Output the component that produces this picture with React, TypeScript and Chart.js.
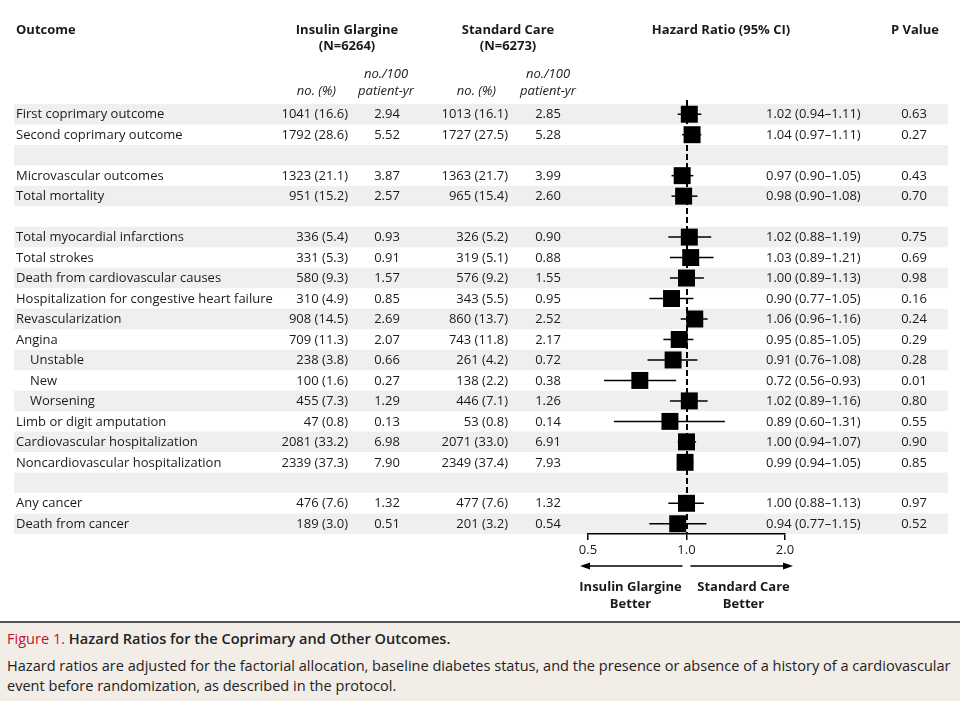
import React, { useEffect, useRef } from "react";
import { Chart, registerables } from "chart.js";

Chart.register(...registerables);

const outcomes = [
  "First coprimary outcome",
  "Second coprimary outcome",
  "",
  "Microvascular outcomes",
  "Total mortality",
  "",
  "Total myocardial infarctions",
  "Total strokes",
  "Death from cardiovascular causes",
  "Hospitalization for congestive heart failure",
  "Revascularization",
  "Angina",
  "Unstable",
  "New",
  "Worsening",
  "Limb or digit amputation",
  "Cardiovascular hospitalization",
  "Noncardiovascular hospitalization",
  "",
  "Any cancer",
  "Death from cancer",
];
const indented = [false, false, false, false, false, false, false, false, false, false, false, false, true, true, true, false, false, false, false, false, false];
const igCounts = ["1041 (16.6)", "1792 (28.6)", "", "1323 (21.1)", "951 (15.2)", "", "336 (5.4)", "331 (5.3)", "580 (9.3)", "310 (4.9)", "908 (14.5)", "709 (11.3)", "238 (3.8)", "100 (1.6)", "455 (7.3)", "47 (0.8)", "2081 (33.2)", "2339 (37.3)", "", "476 (7.6)", "189 (3.0)"];
const igRates = ["2.94", "5.52", "", "3.87", "2.57", "", "0.93", "0.91", "1.57", "0.85", "2.69", "2.07", "0.66", "0.27", "1.29", "0.13", "6.98", "7.90", "", "1.32", "0.51"];
const scCounts = ["1013 (16.1)", "1727 (27.5)", "", "1363 (21.7)", "965 (15.4)", "", "326 (5.2)", "319 (5.1)", "576 (9.2)", "343 (5.5)", "860 (13.7)", "743 (11.8)", "261 (4.2)", "138 (2.2)", "446 (7.1)", "53 (0.8)", "2071 (33.0)", "2349 (37.4)", "", "477 (7.6)", "201 (3.2)"];
const scRates = ["2.85", "5.28", "", "3.99", "2.60", "", "0.90", "0.88", "1.55", "0.95", "2.52", "2.17", "0.72", "0.38", "1.26", "0.14", "6.91", "7.93", "", "1.32", "0.54"];
const hazardRatios: (number | null)[] = [1.02, 1.04, null, 0.97, 0.98, null, 1.02, 1.03, 1.0, 0.9, 1.06, 0.95, 0.91, 0.72, 1.02, 0.89, 1.0, 0.99, null, 1.0, 0.94];
const ciLow: (number | null)[] = [0.94, 0.97, null, 0.9, 0.9, null, 0.88, 0.89, 0.89, 0.77, 0.96, 0.85, 0.76, 0.56, 0.89, 0.6, 0.94, 0.94, null, 0.88, 0.77];
const ciHigh: (number | null)[] = [1.11, 1.11, null, 1.05, 1.08, null, 1.19, 1.21, 1.13, 1.05, 1.16, 1.05, 1.08, 0.93, 1.16, 1.31, 1.07, 1.05, null, 1.13, 1.15];
const pValues = ["0.63", "0.27", "", "0.43", "0.70", "", "0.75", "0.69", "0.98", "0.16", "0.24", "0.29", "0.28", "0.01", "0.80", "0.55", "0.90", "0.85", "", "0.97", "0.52"];
const xTicks = [0.5, 1.0, 2.0];

const FONT = "'Open Sans', 'Noto Sans', sans-serif";
const TEXT = "#1a1a1a";

const fmt = (v: number) => v.toFixed(2);

const tablePlugin = {
  id: "forestTable",
  beforeDraw(chart: any) {
    const { ctx, scales } = chart;
    const y = scales.y;
    const h = Math.abs(y.getPixelForValue(1) - y.getPixelForValue(0));
    ctx.save();
    ctx.fillStyle = "#efefef";
    outcomes.forEach((_, i) => {
      if (i % 2 === 0) ctx.fillRect(14, y.getPixelForValue(i) - h / 2, 934, h);
    });
    ctx.restore();
  },
  beforeDatasetsDraw(chart: any) {
    const { ctx, scales, chartArea } = chart;
    const x = scales.x;
    const y = scales.y;
    ctx.save();
    ctx.strokeStyle = "#000";
    ctx.lineWidth = 2;
    ctx.setLineDash([6, 3]);
    const x1 = Math.round(x.getPixelForValue(1));
    ctx.beginPath();
    ctx.moveTo(x1, chartArea.top - 4);
    ctx.lineTo(x1, chartArea.bottom);
    ctx.stroke();
    ctx.setLineDash([]);
    ctx.lineWidth = 1.5;
    hazardRatios.forEach((hr, i) => {
      const lo = ciLow[i];
      const hi = ciHigh[i];
      if (hr == null || lo == null || hi == null) return;
      const py = y.getPixelForValue(i);
      ctx.beginPath();
      ctx.moveTo(x.getPixelForValue(lo), py);
      ctx.lineTo(x.getPixelForValue(hi), py);
      ctx.stroke();
    });
    ctx.restore();
  },
  afterDraw(chart: any) {
    const { ctx, scales, chartArea } = chart;
    const x = scales.x;
    const y = scales.y;
    ctx.save();
    ctx.fillStyle = TEXT;
    ctx.textBaseline = "middle";
    ctx.font = `bold 13px ${FONT}`;
    ctx.textAlign = "left";
    ctx.fillText("Outcome", 16, 30);
    ctx.textAlign = "center";
    ctx.fillText("Insulin Glargine", 347, 30);
    ctx.fillText("(N=6264)", 347, 46);
    ctx.fillText("Standard Care", 508, 30);
    ctx.fillText("(N=6273)", 508, 46);
    ctx.fillText("Hazard Ratio (95% CI)", 721, 30);
    ctx.fillText("P Value", 915, 30);
    ctx.font = `italic 13px ${FONT}`;
    ctx.textAlign = "right";
    ctx.fillText("no. (%)", 336, 91);
    ctx.fillText("no. (%)", 496, 91);
    ctx.textAlign = "center";
    ctx.fillText("no./100", 386, 74);
    ctx.fillText("patient-yr", 386, 91);
    ctx.fillText("no./100", 548, 74);
    ctx.fillText("patient-yr", 548, 91);
    ctx.font = `13px ${FONT}`;
    outcomes.forEach((name, i) => {
      if (!name) return;
      const py = y.getPixelForValue(i) + 0.5;
      ctx.textAlign = "left";
      ctx.fillText(name, indented[i] ? 30 : 16, py);
      ctx.textAlign = "right";
      ctx.fillText(igCounts[i], 348, py);
      ctx.fillText(scCounts[i], 508, py);
      ctx.textAlign = "center";
      ctx.fillText(igRates[i], 387, py);
      ctx.fillText(scRates[i], 548, py);
      ctx.fillText(pValues[i], 914, py);
      const hr = hazardRatios[i];
      const lo = ciLow[i];
      const hi = ciHigh[i];
      if (hr != null && lo != null && hi != null) {
        ctx.textAlign = "left";
        ctx.fillText(`${fmt(hr)} (${fmt(lo)}\u2013${fmt(hi)})`, 766, py);
      }
    });
    const x1 = x.getPixelForValue(1);
    const ay = chartArea.bottom + 32;
    ctx.strokeStyle = "#000";
    ctx.fillStyle = "#000";
    ctx.lineWidth = 1.5;
    const leftEnd = chartArea.left - 8;
    const rightEnd = chartArea.right + 8;
    ctx.beginPath();
    ctx.moveTo(x1 - 4, ay);
    ctx.lineTo(leftEnd + 6, ay);
    ctx.moveTo(x1 + 4, ay);
    ctx.lineTo(rightEnd - 6, ay);
    ctx.stroke();
    ctx.beginPath();
    ctx.moveTo(leftEnd, ay);
    ctx.lineTo(leftEnd + 10, ay - 3.5);
    ctx.lineTo(leftEnd + 10, ay + 3.5);
    ctx.closePath();
    ctx.fill();
    ctx.beginPath();
    ctx.moveTo(rightEnd, ay);
    ctx.lineTo(rightEnd - 10, ay - 3.5);
    ctx.lineTo(rightEnd - 10, ay + 3.5);
    ctx.closePath();
    ctx.fill();
    ctx.fillStyle = TEXT;
    ctx.font = `bold 13px ${FONT}`;
    ctx.textAlign = "center";
    ctx.fillText("Insulin Glargine", x1 - 56, ay + 21);
    ctx.fillText("Better", x1 - 56, ay + 38);
    ctx.fillText("Standard Care", x1 + 57, ay + 21);
    ctx.fillText("Better", x1 + 57, ay + 38);
    ctx.restore();
  },
};

export default function App() {
  const canvasRef = useRef<HTMLCanvasElement | null>(null);
  const captionRef = useRef<HTMLDivElement | null>(null);
  const longLineRef = useRef<HTMLDivElement | null>(null);

  useEffect(() => {
    if (captionRef.current && longLineRef.current) {
      const w = longLineRef.current.scrollWidth;
      if (w > 0) {
        const s = 944 / w;
        captionRef.current.style.transform = `scaleX(${s})`;
      }
    }
    if (!canvasRef.current) return;
    const points = hazardRatios
      .map((hr, i) => (hr == null ? null : { x: hr, y: i }))
      .filter((p) => p !== null) as { x: number; y: number }[];
    const chart = new Chart(canvasRef.current, {
      type: "scatter",
      data: {
        datasets: [
          {
            data: points,
            pointStyle: "rect",
            pointRadius: 12,
            backgroundColor: "#000",
            borderWidth: 0,
          },
        ],
      },
      options: {
        animation: false,
        responsive: false,
        events: [],
        layout: { padding: { left: 588, right: 175, top: 104, bottom: 56 } },
        plugins: { legend: { display: false }, tooltip: { enabled: false } },
        scales: {
          x: {
            type: "logarithmic",
            min: 0.5,
            max: 2,
            afterBuildTicks: (s: any) => {
              s.ticks = xTicks.map((v) => ({ value: v }));
            },
            afterFit: (s: any) => {
              s.height = 30;
            },
            ticks: {
              autoSkip: false,
              maxRotation: 0,
              padding: 2,
              color: TEXT,
              font: { family: FONT, size: 13 },
              callback: (v: any) => Number(v).toFixed(1),
            },
            grid: { drawOnChartArea: false, drawTicks: true, tickLength: 6, color: "#000", lineWidth: 1.5 },
            border: { display: true, color: "#000", width: 1.5 },
          },
          y: {
            type: "linear",
            min: -0.5,
            max: 20.5,
            reverse: true,
            display: false,
          },
        },
      },
      plugins: [tablePlugin],
    } as any);
    return () => chart.destroy();
  }, []);

  return (
    <div style={{ position: "absolute", left: 0, top: 0, width: 960, height: 720, background: "#fff", overflow: "hidden" }}>
      <canvas ref={canvasRef} width={960} height={620} style={{ width: 960, height: 620, display: "block" }} />
      <div
        style={{
          position: "absolute",
          left: 0,
          top: 621,
          width: 960,
          height: 80,
          background: "#f3ede8",
          borderTop: "2px solid #555",
          boxSizing: "border-box",
        }}
      >
        <div
          ref={captionRef}
          style={{
            position: "absolute",
            left: 7,
            top: 5,
            transformOrigin: "0 0",
            fontFamily: "'Open Sans', sans-serif",
            color: "#222",
            fontSize: 15,
            lineHeight: "20px",
            whiteSpace: "nowrap",
          }}
        >
          <div style={{ fontSize: 15 }}>
            <span style={{ color: "#c8102e" }}>Figure 1.</span>{" "}
            <span style={{ fontWeight: 600 }}>Hazard Ratios for the Coprimary and Other Outcomes.</span>
          </div>
          <div ref={longLineRef} style={{ marginTop: 7, display: "inline-block" }}>
            Hazard ratios are adjusted for the factorial allocation, baseline diabetes status, and the presence or absence of a history of a cardiovascular
          </div>
          <div>event before randomization, as described in the protocol.</div>
        </div>
      </div>
    </div>
  );
}
